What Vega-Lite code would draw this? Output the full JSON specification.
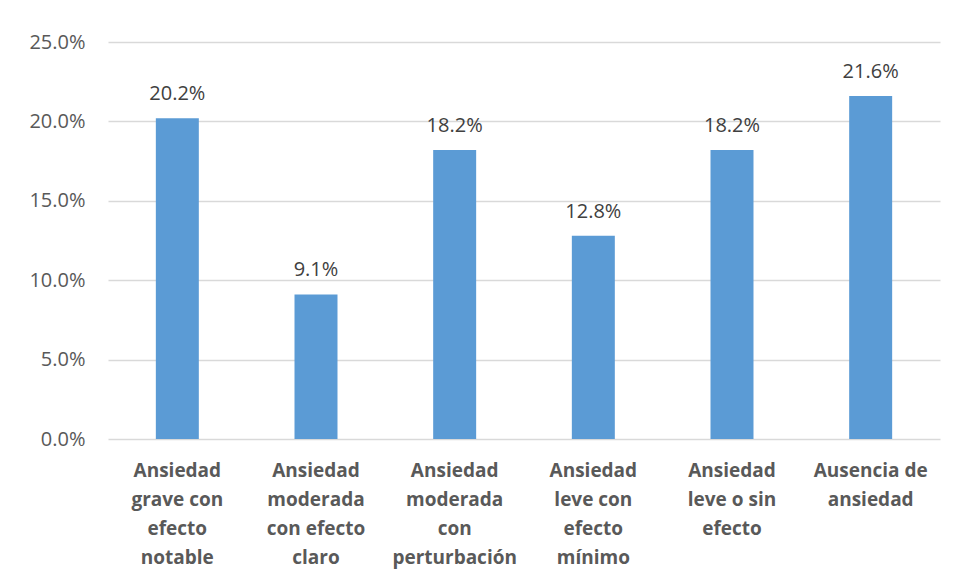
{
  "$schema": "https://vega.github.io/schema/vega-lite/v6.json",
  "autosize": {"type": "none"},
  "padding": {"left": 108, "top": 42, "right": 16, "bottom": 143},
  "width": 832,
  "height": 397,
  "background": "white",
  "data": {
    "values": [
      {"categoria": "Ansiedad grave con efecto notable", "porcentaje": 0.202},
      {"categoria": "Ansiedad moderada con efecto claro", "porcentaje": 0.091},
      {"categoria": "Ansiedad moderada con perturbación", "porcentaje": 0.182},
      {"categoria": "Ansiedad leve con efecto mínimo", "porcentaje": 0.128},
      {"categoria": "Ansiedad leve o sin efecto", "porcentaje": 0.182},
      {"categoria": "Ausencia de ansiedad", "porcentaje": 0.216}
    ]
  },
  "encoding": {
    "x": {
      "field": "categoria",
      "type": "nominal",
      "sort": null,
      "scale": {"paddingInner": 0.69, "paddingOuter": 0.345},
      "axis": {
        "title": null,
        "labelAngle": 0,
        "ticks": false,
        "domain": false,
        "labelPadding": 22,
        "labelFont": "Open Sans",
        "labelFontSize": 19,
        "labelFontWeight": "bold",
        "labelColor": "#595959",
        "labelLineHeight": 29,
        "labelBaseline": "top",
        "labelLimit": 200,
        "labelExpr": "datum.label == 'Ansiedad grave con efecto notable' ? ['Ansiedad','grave con','efecto','notable'] : datum.label == 'Ansiedad moderada con efecto claro' ? ['Ansiedad','moderada','con efecto','claro'] : datum.label == 'Ansiedad moderada con perturbación' ? ['Ansiedad','moderada','con','perturbación'] : datum.label == 'Ansiedad leve con efecto mínimo' ? ['Ansiedad','leve con','efecto','mínimo'] : datum.label == 'Ansiedad leve o sin efecto' ? ['Ansiedad','leve o sin','efecto'] : ['Ausencia de','ansiedad']"
      }
    },
    "y": {
      "field": "porcentaje",
      "type": "quantitative",
      "scale": {"domain": [0, 0.25], "nice": false},
      "axis": {
        "title": null,
        "values": [0, 0.05, 0.1, 0.15, 0.2, 0.25],
        "format": ".1%",
        "ticks": false,
        "domain": false,
        "grid": true,
        "gridColor": "#D9D9D9",
        "gridWidth": 1.3,
        "labelPadding": 23,
        "labelFont": "Open Sans",
        "labelFontSize": 20,
        "labelColor": "#595959"
      }
    }
  },
  "layer": [
    {"mark": {"type": "bar", "color": "#5B9BD5"}},
    {
      "mark": {"type": "text", "baseline": "alphabetic", "dy": -18, "font": "Open Sans", "fontSize": 20, "color": "#404040"},
      "encoding": {"text": {"field": "porcentaje", "type": "quantitative", "format": ".1%"}}
    }
  ],
  "config": {"view": {"stroke": null}}
}
